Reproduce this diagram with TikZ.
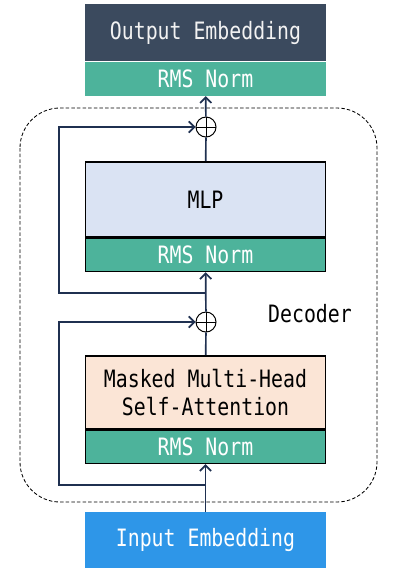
\documentclass[tikz,border=0pt]{standalone}
\usepackage{fontspec}
\setmonofont[FakeStretch=0.83]{DejaVu Sans Mono}
\usetikzlibrary{positioning,arrows.meta}
\definecolor{outcol}{HTML}{3B4A5E}
\definecolor{normcol}{HTML}{4DB39B}
\definecolor{mlpcol}{HTML}{DAE3F3}
\definecolor{attcol}{HTML}{FBE5D6}
\definecolor{incol}{HTML}{2E96E8}
\definecolor{wirecol}{HTML}{1F3050}
\begin{document}
\begin{tikzpicture}[x=0.025cm,y=-0.025cm,
        font=\ttfamily\fontsize{17}{20}\selectfont,
        block/.style={minimum width=6cm,inner sep=0pt,align=center},
        norm/.style={block,fill=normcol,text=white,minimum height=0.82cm},
        boxed/.style={draw=black,line width=1.2pt},
        sum/.style={circle,draw=black,line width=0.7pt,minimum size=0.5cm,inner sep=0pt,
            path picture={\draw[line width=0.7pt] (path picture bounding box.north) -- (path picture bounding box.south)
                (path picture bounding box.west) -- (path picture bounding box.east);}},
        wire/.style={draw=wirecol,line width=1.2pt},
        tip/.style={-{Straight Barb[length=4pt,width=8pt]}}]
    \useasboundingbox (0,0) rectangle (402,579);
    % decoder frame
    \draw [dashed,line width=0.6pt,dash pattern=on 2.5pt off 1.5pt,rounded corners=1cm] (20,108) rectangle (377,502);
    \node (dec) at (310,314) {Decoder};
    % output side
    \node [block,fill=outcol,text=white!90!gray,minimum height=1.425cm,anchor=north] (outemb) at (205.5,4) {Output Embedding};
    \node [norm,minimum height=0.85cm,below=0pt of outemb] (outnorm) {RMS Norm};
    \node [sum] (add2) at (206,127) {};
    % mlp block
    \node [block,boxed,fill=mlpcol,minimum height=1.875cm,anchor=north] (mlp) at (205.5,161) {MLP};
    \node [norm,boxed,below=0pt of mlp] (mlpnorm) {RMS Norm};
    \node [sum] (add1) at (206,322) {};
    % attention block
    \node [block,boxed,fill=attcol,minimum height=1.825cm,anchor=north] (attn) at (205.5,355) {Masked Multi-Head\\Self-Attention};
    \node [norm,boxed,below=0pt of attn] (attnnorm) {RMS Norm};
    % input
    \node [block,fill=incol,text=white,minimum height=1.4cm,anchor=north] (inemb) at (205.5,512) {Input Embedding};
    % residual paths
    \coordinate (split1) at (206,485);
    \coordinate (skip1) at (59,485);
    \coordinate (split2) at (206,293);
    \coordinate (skip2) at (59,293);
    \draw [wire,tip] (inemb) -- (attnnorm);
    \draw [wire,tip] (split1) -- (skip1) |- (add1);
    \draw [wire] (attn) -- (add1);
    \draw [wire,tip] (add1) -- (mlpnorm);
    \draw [wire,tip] (split2) -- (skip2) |- (add2);
    \draw [wire] (mlp) -- (add2);
    \draw [wire,tip] (add2) -- (outnorm);
\end{tikzpicture}
\end{document}
